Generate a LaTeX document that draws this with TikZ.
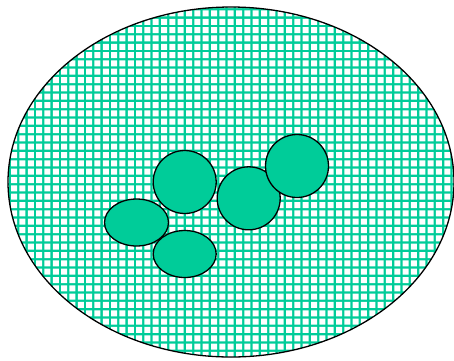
\documentclass[tikz,border=0pt]{standalone}
\usepackage{tikz}
\usetikzlibrary{shapes.geometric}
\definecolor{mint}{RGB}{0,204,153}
\tikzset{blob/.style={ellipse, draw=black, line width=1.3pt, fill=mint, inner sep=0pt}}

\begin{document}
\begin{tikzpicture}[x=1pt,y=-1pt]
      \useasboundingbox (0,0) rectangle (454,360);
      % hatched field: mint ground with white cells
      \begin{scope}
        \clip (231,182) ellipse (223 and 175);
        \fill[mint] (0,0) rectangle (454,360);
        \fill[white] \foreach \i in {0,...,54} {\foreach \j in {0,...,43}
          {(2.8+8.33*\i,2.1+8.33*\j) rectangle ++(6,6)}};
      \end{scope}
      \draw[line width=1.3pt] (231,182) ellipse (223 and 175);
      % cells
      \node[blob, minimum width=63, minimum height=63] (c1) at (184.7,182) {};
      \node[blob, minimum width=64, minimum height=47] (e1) at (136.5,222.5) {};
      \node[blob, minimum width=63, minimum height=47] (e2) at (184.7,254) {};
      \node[blob, minimum width=63, minimum height=63] (c2) at (248.7,198.3) {};
      \node[blob, minimum width=63, minimum height=63] (c3) at (297,166) {};
\end{tikzpicture}
\end{document}
